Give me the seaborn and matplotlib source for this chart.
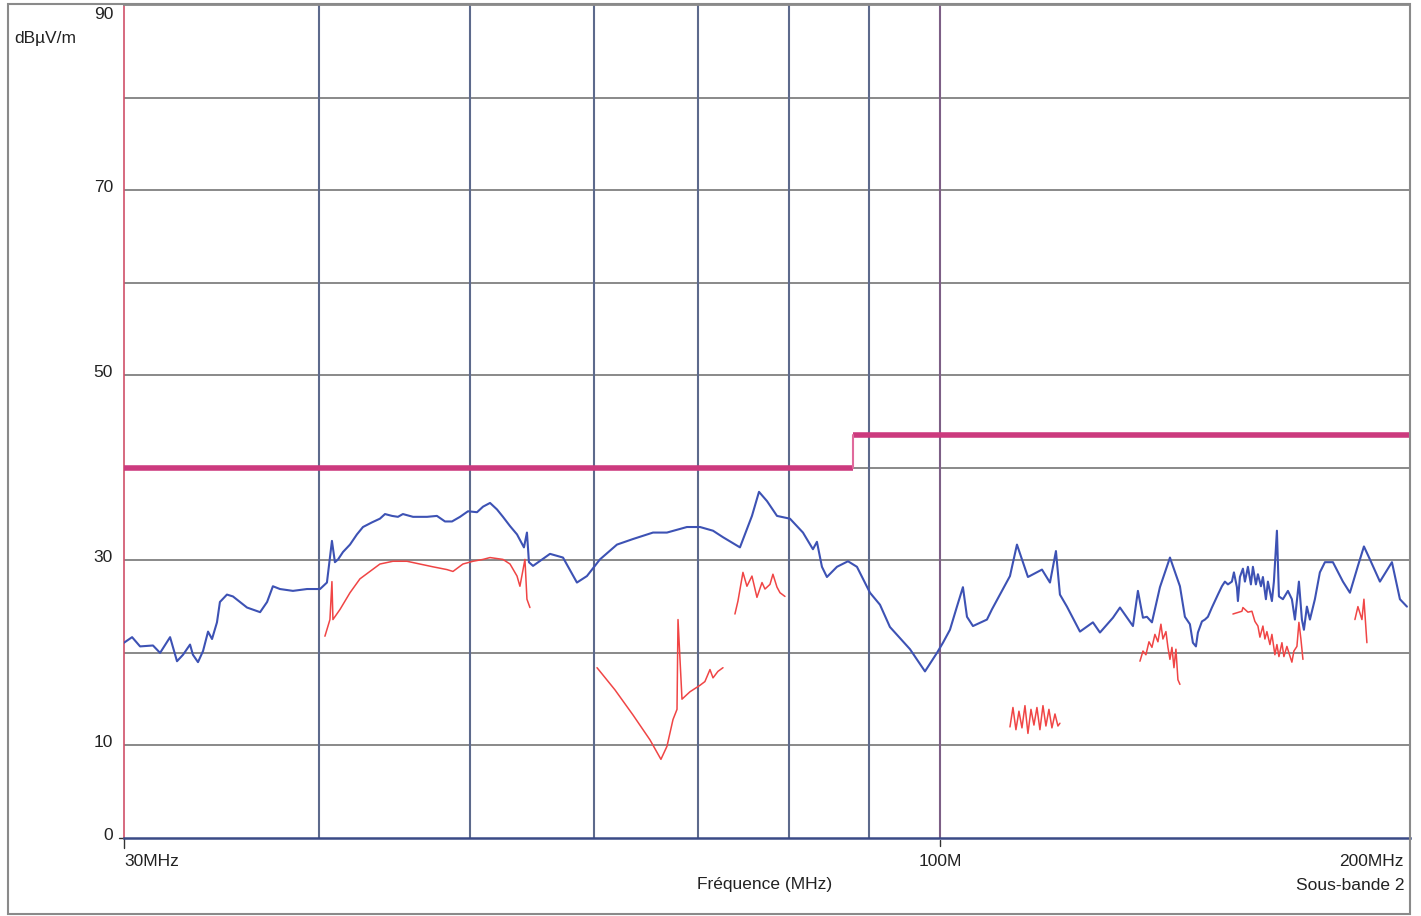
import numpy as np
import pandas as pd
import matplotlib
matplotlib.use("Agg")
import matplotlib.pyplot as plt
import matplotlib.patches as mpatches
import matplotlib.transforms as mtransforms
import seaborn as sns

# Peak scan (blue), frequency in MHz and level in dBµV/m
peak_freq = [30.00, 30.36, 30.72, 31.31, 31.64, 32.11, 32.44, 32.73, 33.07, 33.21,
             33.46, 33.71, 33.96, 34.16, 34.41, 34.56, 34.92, 35.23, 35.97, 36.67,
             37.05, 37.37, 37.76, 38.49, 39.30, 40.06, 40.47, 40.77, 40.95, 41.14,
             41.44, 41.87, 42.30, 42.68, 43.25, 43.76, 44.09, 44.55, 44.94, 45.27,
             45.95, 46.91, 47.60, 48.17, 48.67, 49.25, 49.83, 50.50, 50.95, 51.48,
             52.01, 52.47, 53.02, 53.57, 54.12, 54.36, 54.52, 54.85,
             56.24, 57.33, 58.52, 59.39, 60.54, 62.08, 63.56, 65.47, 66.83, 68.83,
             70.17, 71.53, 72.59, 74.43, 74.98, 75.76, 76.55, 77.46, 78.61, 80.13,
             81.68, 82.89, 83.38, 84.00, 84.62, 85.88, 87.29, 88.45, 90.17, 91.51,
             92.86, 95.65, 97.79, 99.53, 100.42, 101.46, 102.51, 103.42, 104.04, 104.96,
             107.15, 107.94, 109.71, 110.85, 112.00, 113.83, 116.21, 117.59, 118.63, 119.33,
             120.57, 122.91, 125.28, 126.59, 129.04, 130.38, 132.90, 133.88, 134.88, 135.67,
             136.68, 138.30, 140.36,
             142.44, 143.49, 144.55, 145.19, 145.84, 146.27, 147.14, 147.79, 148.44, 149.32,
             149.98, 150.65, 151.54, 152.21, 152.89, 153.79, 154.25, 154.93, 155.16, 155.62,
             156.31, 156.77, 157.47, 158.16, 158.63, 159.33, 159.81, 160.52, 160.99, 161.70,
             162.18, 163.14, 163.62, 164.35, 164.84, 165.81, 167.04, 168.02, 168.77, 169.77,
             170.52, 171.03, 171.78, 172.55, 173.82, 175.10, 176.41,
             178.50, 181.16, 183.04, 185.21, 186.86, 188.52, 191.32, 194.74, 197.05, 199.10]
peak_level = [21.1, 21.7, 20.7, 20.8, 20.0, 21.7, 19.1, 19.8, 20.9, 19.8,
              19.0, 20.2, 22.3, 21.5, 23.3, 25.5, 26.3, 26.1, 24.9, 24.4,
              25.5, 27.2, 26.9, 26.7, 26.9, 26.9, 27.6, 32.1, 29.8, 30.1,
              30.9, 31.7, 32.8, 33.6, 34.1, 34.5, 35.0, 34.8, 34.7, 35.0,
              34.7, 34.7, 34.8, 34.2, 34.2, 34.7, 35.3, 35.2, 35.8, 36.2,
              35.5, 34.7, 33.7, 32.8, 31.4, 33.0, 29.8, 29.4,
              30.7, 30.3, 27.6, 28.3, 30.1, 31.7, 32.3, 33.0, 33.0, 33.6,
              33.6, 33.2, 32.5, 31.4, 32.8, 34.8, 37.4, 36.4, 34.8, 34.5,
              33.0, 31.2, 32.0, 29.3, 28.2, 29.3, 29.9, 29.3, 26.5, 25.2,
              22.8, 20.4, 18.0, 20.0, 21.1, 22.5, 25.0, 27.1, 23.9, 22.9,
              23.6, 24.7, 26.9, 28.3, 31.7, 28.2, 29.0, 27.6, 31.0, 26.3,
              25.0, 22.3, 23.3, 22.2, 23.8, 24.9, 22.9, 26.7, 23.8, 23.9,
              23.3, 27.1, 30.3,
              27.2, 23.9, 23.1, 21.1, 20.7, 22.2, 23.4, 23.6, 23.9, 24.9,
              25.6, 26.3, 27.2, 27.7, 27.4, 27.7, 28.7, 27.1, 25.6, 28.2,
              29.1, 27.7, 29.3, 27.4, 29.3, 27.4, 28.5, 27.2, 28.2, 25.8,
              27.7, 25.6, 27.7, 33.2, 26.1, 25.8, 26.7, 25.8, 23.6, 27.7,
              23.6, 22.5, 25.0, 23.6, 25.8, 28.7, 29.8,
              29.8, 27.7, 26.5, 29.4, 31.5, 30.1, 27.7, 29.8, 25.8, 25.0]

# Quasi-peak sub-scans (red), one list per segment
qp_freq_1 = [40.35, 40.65, 40.77, 40.83, 41.26, 41.87, 42.49, 43.12, 43.76, 44.61,
             45.54, 46.42, 47.32, 48.31, 48.74, 49.46, 50.20, 50.95, 51.48, 52.47,
             53.02, 53.57, 53.80, 54.20, 54.36, 54.60]
qp_level_1 = [21.8, 23.6, 27.7, 23.6, 24.7, 26.5, 28.0, 28.8, 29.6, 29.9,
              29.9, 29.6, 29.3, 29.0, 28.8, 29.6, 29.9, 30.1, 30.3, 30.1,
              29.6, 28.3, 27.2, 30.1, 25.8, 24.9]

qp_freq_2 = [60.28, 61.90, 63.56, 65.18, 66.24, 66.83, 67.43, 67.83, 67.93, 68.33,
             69.14, 70.17, 70.68, 71.21, 71.53, 72.05, 72.59]
qp_level_2 = [18.4, 16.0, 13.3, 10.6, 8.5, 9.9, 12.8, 13.9, 23.6, 15.0,
              15.8, 16.5, 16.9, 18.2, 17.3, 18.0, 18.4]

qp_freq_3 = [73.88, 74.21, 74.76, 75.20, 75.76, 76.32, 76.89, 77.23, 77.80, 78.14,
             78.61, 78.96, 79.54]
qp_level_3 = [24.2, 25.6, 28.7, 27.2, 28.3, 26.0, 27.6, 26.9, 27.4, 28.5,
              27.1, 26.5, 26.1]

qp_freq_4 = [110.85, 111.34, 111.83, 112.33, 112.83, 113.33, 113.83, 114.34, 114.84, 115.35,
             115.86, 116.38, 116.89, 117.41, 117.93, 118.46, 118.98, 119.33]
qp_level_4 = [12.0, 14.1, 11.7, 13.7, 11.9, 14.3, 11.3, 13.9, 12.2, 14.1,
              11.7, 14.3, 12.1, 13.9, 11.9, 13.4, 12.1, 12.4]

qp_freq_5 = [134.28, 134.88, 135.47, 136.08, 136.68, 137.28, 137.89, 138.50, 138.91, 139.53,
             139.94, 140.36, 140.77, 141.19, 141.60, 142.02, 142.44]
qp_level_5 = [19.1, 20.2, 19.8, 21.2, 20.6, 22.0, 21.2, 23.1, 21.5, 22.3,
              20.6, 19.3, 20.6, 18.4, 20.4, 17.1, 16.6]

qp_freq_6 = [154.02, 156.08, 156.31, 157.47, 158.40, 159.10, 159.81, 160.28, 160.99, 161.46,
             161.94, 162.66, 163.14, 163.86, 164.35, 164.84, 165.57, 166.05, 166.79, 167.28,
             168.02, 168.52, 169.27, 169.77, 170.27, 170.78]
qp_level_6 = [24.2, 24.5, 24.9, 24.4, 24.5, 23.4, 22.9, 21.7, 22.9, 21.5,
              22.3, 20.9, 22.0, 19.8, 20.9, 19.6, 21.1, 19.6, 20.7, 20.0,
              19.0, 20.2, 20.7, 23.3, 21.5, 19.3]

qp_freq_7 = [184.39, 185.21, 186.31, 186.86, 187.68]
qp_level_7 = [23.6, 25.0, 23.6, 25.8, 21.1]

# Class B radiated limit (dBµV/m)
limit_freq_low = [30, 88]
limit_level_low = [40, 40]
limit_freq_high = [88, 200]
limit_level_high = [43.5, 43.5]

y_ticks = [0, 10, 30, 50, 70, 90]
y_grid = [10, 20, 30, 40, 50, 60, 70, 80]
x_grid = [40, 50, 60, 70, 80, 90]

sns.set_theme(style="white")
plt.rcParams["font.family"] = ["Liberation Sans", "DejaVu Sans"]

fig = plt.figure(figsize=(14.21, 9.16), dpi=100)
ax = fig.add_axes([124 / 1421, 78 / 916, 1286 / 1421, 833 / 916])

ax.set_xscale("log")
ax.set_xlim(30, 200)
ax.set_ylim(0, 90)

# grid
for yv in y_grid:
    ax.axhline(yv, color="#808080", lw=1.3, zorder=1)
for xv in x_grid:
    ax.axvline(xv, color="#5d6a8c", lw=1.5, zorder=1)
ax.axvline(100, color="#7d5f86", lw=1.5, zorder=1)

# limit line
ax.plot(limit_freq_low, limit_level_low, color="#cc3a7e", lw=4, solid_capstyle="butt", zorder=3)
ax.plot(limit_freq_high, limit_level_high, color="#cc3a7e", lw=4, solid_capstyle="butt", zorder=3)
ax.plot([88, 88], [40, 43.5], color="#e06a9c", lw=1.5, zorder=3)

# measurement traces
peak_df = pd.DataFrame({"f": peak_freq, "level": peak_level})
sns.lineplot(data=peak_df, x="f", y="level", sort=False, estimator=None,
             color="#3d52b4", lw=1.5, ax=ax, zorder=4)

qp_parts = [(qp_freq_1, qp_level_1), (qp_freq_2, qp_level_2), (qp_freq_3, qp_level_3),
            (qp_freq_4, qp_level_4), (qp_freq_5, qp_level_5), (qp_freq_6, qp_level_6),
            (qp_freq_7, qp_level_7)]
qp_df = pd.concat([pd.DataFrame({"f": fr, "level": lv, "seg": i})
                   for i, (fr, lv) in enumerate(qp_parts)], ignore_index=True)
sns.lineplot(data=qp_df, x="f", y="level", units="seg", sort=False, estimator=None,
             color="#f04545", lw=1.1, ax=ax, zorder=4)

# axes frame
ax.set_xlabel("")
ax.set_ylabel("")
ax.set_xticks([])
ax.set_xticks([], minor=True)
ax.set_yticks([])
for side in ["top", "right"]:
    ax.spines[side].set_color("#8a8a8a")
    ax.spines[side].set_linewidth(1.3)
ax.spines["left"].set_color("#d0506a")
ax.spines["left"].set_linewidth(1.2)
ax.spines["bottom"].set_color("#3a4a86")
ax.spines["bottom"].set_linewidth(1.8)

# y labels
fs = 12.5
ytrans = mtransforms.blended_transform_factory(fig.transFigure, ax.transData)
for yv in y_ticks:
    off = -1.0 if yv == 90 else 0.3
    ax.text(113 / 1421, yv + off, str(yv), transform=ytrans, ha="right", va="center",
            fontsize=fs, color="#222222")
fig.text(14 / 1421, 1 - 38 / 916, "dBµV/m", ha="left", va="center", fontsize=fs, color="#222222")

# small ticks at the origin and at 100 MHz
xtrans = mtransforms.blended_transform_factory(ax.transData, fig.transFigure)
ax.plot([30, 30], [1 - 838 / 916, 1 - 848 / 916], transform=xtrans, color="#333333", lw=1, clip_on=False)
ax.plot([100, 100], [1 - 840 / 916, 1 - 846 / 916], transform=xtrans, color="#333333", lw=1, clip_on=False)
ax.plot([119 / 1421, 124 / 1421], [1 - 838 / 916, 1 - 838 / 916], transform=fig.transFigure,
        color="#333333", lw=1, clip_on=False)

# x labels
ax.text(30, 1 - 861 / 916, "30MHz", transform=xtrans, ha="left", va="center", fontsize=fs, color="#222222")
ax.text(100, 1 - 861 / 916, "100M", transform=xtrans, ha="center", va="center", fontsize=fs, color="#222222")
fig.text(1404 / 1421, 1 - 862 / 916, "200MHz", ha="right", va="center", fontsize=fs, color="#222222")
fig.text(1404 / 1421, 1 - 885 / 916, "Sous-bande 2", ha="right", va="center", fontsize=fs, color="#222222")
fig.text(765 / 1421, 1 - 884 / 916, "Fréquence (MHz)", ha="center", va="center", fontsize=fs, color="#222222")

# outer frame
fig.patches.append(mpatches.Rectangle((8 / 1421, 2 / 916), 1402 / 1421, 910 / 916,
                                      transform=fig.transFigure, fill=False,
                                      edgecolor="#8a8a8a", lw=1.5))

fig.savefig("out.png", dpi=100)
